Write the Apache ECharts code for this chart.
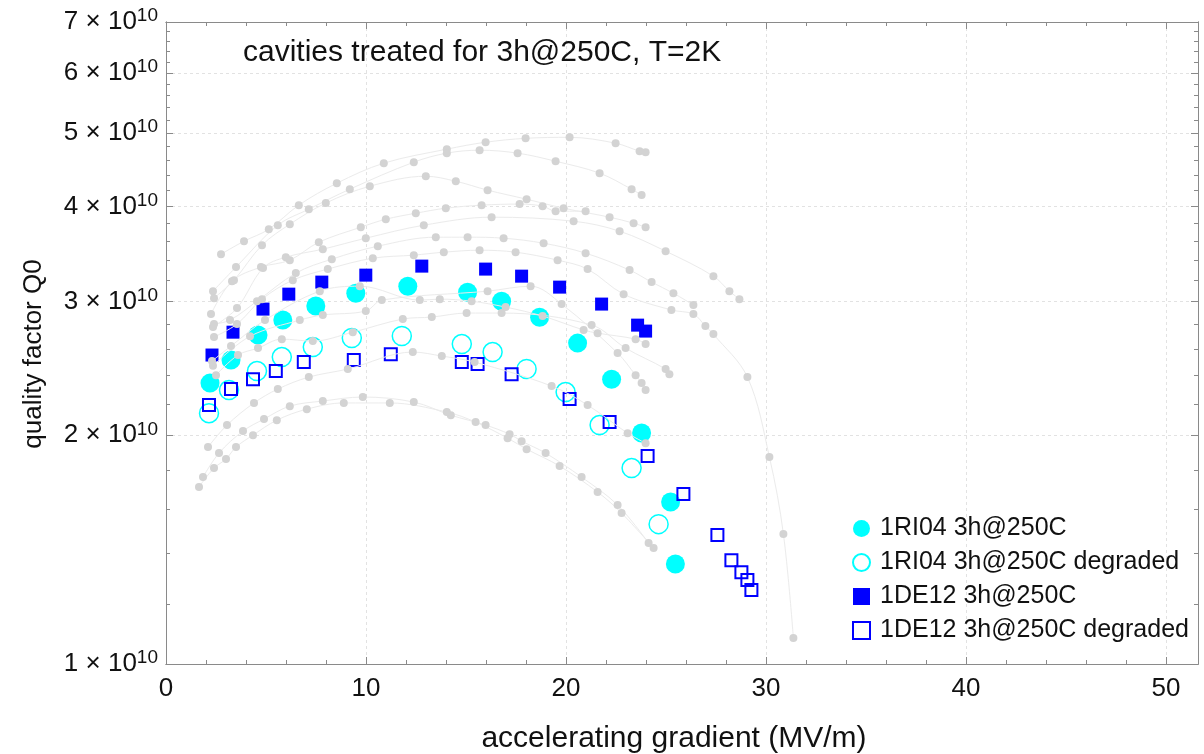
<!DOCTYPE html>
<html><head><meta charset="utf-8">
<script src="https://cdn.jsdelivr.net/npm/echarts@6/dist/echarts.min.js"></script>
<style>html,body{margin:0;padding:0;background:#fff}#c{width:1204px;height:754px}</style>
</head><body><div id="c"></div>
<script>
// ---- tick labels (y in units of 1e10) ----
const xMajor = [0, 10, 20, 30, 40, 50];
const xMinor = [2,4,6,8,12,14,16,18,22,24,26,28,32,34,36,38,42,44,46,48];
const yMajor = [1, 2, 3, 4, 5, 6, 7];
const yMinor = [1.2,1.4,1.6,1.8,2.2,2.4,2.6,2.8,3.2,3.4,3.6,3.8,4.2,4.4,4.6,4.8,5.2,5.4,5.6,5.8,6.2,6.4,6.6,6.8];

// ---- highlighted series: [gradient MV/m, Q0 / 1e10] ----
const ri04 = [[2.20,2.343],[3.25,2.512],[4.60,2.710],[5.84,2.836],[7.49,2.959],[9.49,3.077],[12.09,3.143],[15.08,3.086],[16.78,3.003],[18.68,2.861],[20.58,2.645],[22.28,2.371],[23.78,2.014],[25.23,1.634],[25.47,1.354]];
const ri04deg = [[2.15,2.139],[3.15,2.294],[4.55,2.430],[5.79,2.535],[7.34,2.613],[9.29,2.686],[11.79,2.702],[14.79,2.637],[16.33,2.574],[18.03,2.445],[19.98,2.280],[21.68,2.063],[23.28,1.811],[24.63,1.528]];
const de12 = [[2.30,2.551],[3.35,2.734],[4.85,2.932],[6.14,3.068],[7.79,3.182],[9.99,3.250],[12.79,3.340],[15.98,3.310],[17.78,3.240],[19.68,3.134],[21.78,2.977],[23.58,2.793],[23.98,2.743]];
const de12deg = [[2.15,2.192],[3.25,2.301],[4.35,2.371],[5.49,2.430],[6.89,2.497],[9.39,2.512],[11.24,2.558],[14.79,2.497],[15.58,2.482],[17.28,2.407],[20.18,2.232],[22.18,2.082],[24.08,1.878],[25.87,1.674],[27.57,1.478],[28.27,1.370],[28.77,1.321],[29.07,1.290],[29.27,1.251]];

// ---- background (other cavities) curves ----
const g01 = [[2.75,3.463],[3.90,3.602],[5.14,3.735],[6.64,4.018],[8.54,4.294],[10.89,4.563],[14.04,4.761],[15.98,4.862],[17.98,4.920],[20.18,4.935],[22.48,4.848],[23.68,4.732],[23.98,4.718]];
const g02 = [[2.35,3.096],[3.50,3.330],[5.59,3.781],[7.14,3.969],[9.19,4.217],[12.39,4.577],[14.04,4.704],[15.68,4.746],[17.58,4.704],[19.48,4.590],[21.68,4.427],[23.28,4.217],[23.78,4.142]];
const g03 = [[2.40,3.031],[3.40,3.201],[4.80,3.559],[6.19,3.792],[7.99,4.043],[10.19,4.255],[12.99,4.386],[14.49,4.320],[16.08,4.205],[18.03,4.091],[19.88,3.981],[22.18,3.874],[23.38,3.804],[23.98,3.758]];
const g04 = [[2.25,2.888],[3.30,3.191],[4.75,3.330],[6.19,3.401],[7.64,3.591],[9.74,3.758],[10.99,3.850],[12.49,3.921],[13.99,3.981],[15.78,4.018],[17.68,4.031],[18.83,4.006],[19.48,3.945],[20.98,3.945]];
const g05 = [[2.35,2.777],[3.55,2.941],[4.85,3.320],[5.99,3.432],[7.84,3.516],[9.99,3.635],[12.89,3.781],[16.28,3.874],[20.38,3.827],[22.68,3.713],[24.98,3.495],[27.37,3.240],[28.17,3.096],[28.67,3.022]];
const g06 = [[2.40,2.802],[3.20,2.836],[4.55,3.003],[6.49,3.270],[8.29,3.411],[10.59,3.548],[13.49,3.646],[15.08,3.646],[16.88,3.635],[18.88,3.580],[20.98,3.474],[23.18,3.300],[24.28,3.182],[25.37,3.077],[26.37,2.968]];
const g07 = [[2.40,2.694],[3.55,2.802],[4.80,3.022],[6.34,3.201],[8.09,3.310],[10.34,3.421],[12.39,3.453],[13.89,3.484],[15.68,3.505],[17.48,3.484],[19.58,3.401],[21.08,3.310],[22.88,3.068],[25.27,2.924],[26.37,2.888],[26.97,2.785],[27.37,2.718],[29.07,2.386],[30.17,1.873],[30.87,1.483],[31.37,1.082]];
const g08 = [[2.30,2.505],[3.25,2.621],[4.95,2.836],[7.69,3.096],[9.69,3.143],[12.69,3.013],[13.69,3.022],[15.28,3.003],[16.98,2.950],[18.83,2.871],[20.88,2.752],[21.58,2.726],[23.48,2.677],[23.98,2.637]];
const g09 = [[2.50,2.400],[3.60,2.551],[4.60,2.605],[5.79,2.677],[7.34,2.661],[9.34,2.734],[11.84,2.845],[13.29,2.862],[15.03,2.897],[16.78,2.897],[21.28,2.794],[22.98,2.605],[24.98,2.445],[25.17,2.407]];
const g10 = [[2.35,2.470],[4.20,2.700],[6.69,2.836],[7.84,2.880],[9.99,2.915],[10.79,3.013],[16.08,3.096],[18.23,3.143],[19.78,2.977],[22.58,2.566],[23.48,2.400],[23.78,2.343],[23.98,2.294]];
const g11 = [[2.10,1.930],[3.05,2.063],[4.40,2.206],[5.59,2.301],[7.14,2.386],[9.09,2.445],[12.34,2.574],[13.79,2.543],[15.43,2.497],[19.28,2.322],[21.08,2.192],[23.08,2.013],[23.98,1.953]];
const g12 = [[1.85,1.762],[2.65,1.895],[3.85,2.026],[4.90,2.101],[6.19,2.185],[7.84,2.219],[9.84,2.246],[12.39,2.212],[14.24,2.126],[15.98,2.063],[17.18,2.007],[17.78,1.965],[18.98,1.895],[20.78,1.762],[22.58,1.619],[24.13,1.443]];
const g13 = [[1.65,1.710],[2.40,1.811],[3.00,1.861],[3.50,1.930],[4.35,2.001],[5.54,2.094],[7.04,2.165],[8.89,2.206],[11.19,2.206],[14.04,2.146],[15.48,2.082],[17.08,1.983],[18.03,1.918],[19.68,1.822],[21.58,1.684],[22.78,1.580],[24.38,1.421]];
const grayCurves = [g01,g02,g03,g04,g05,g06,g07,g08,g09,g10,g11,g12,g13];

const names = ['1RI04 3h@250C','1RI04 3h@250C degraded','1DE12 3h@250C','1DE12 3h@250C degraded'];
const titleText = 'cavities treated for 3h@250C, T=2K';

const FONT = "'Liberation Sans', Arial, sans-serif";
const AX = '#8a8a8a';
const GRIDC = '#e2e2e2';
const CYAN = '#00ffff';
const BLUE = '#0000ff';

const chart = echarts.init(document.getElementById('c'));

function xAx(pos, major, extra) {
  return Object.assign({
    type: 'value', min: 0, max: 51.6, position: pos, gridIndex: 0,
    axisLine: { show: true, onZero: false, lineStyle: { color: AX, width: 1 } },
    axisTick: { show: true, inside: true, length: major ? 7 : 4, customValues: major ? xMajor : xMinor, lineStyle: { color: AX } },
    axisLabel: { show: false },
    splitLine: { show: false }
  }, extra || {});
}
function yAx(pos, major, extra) {
  return Object.assign({
    type: 'log', logBase: 10, min: 1, max: 7, position: pos, gridIndex: 0,
    axisLine: { show: true, onZero: false, lineStyle: { color: AX, width: 1 } },
    axisTick: { show: true, inside: true, length: major ? 7 : 4, customValues: major ? yMajor : yMinor, lineStyle: { color: AX } },
    axisLabel: { show: false },
    splitLine: { show: false }
  }, extra || {});
}

const series = [];
series.push({ name: names[0], type: 'scatter', data: ri04, symbol: 'circle', symbolSize: 19, itemStyle: { color: CYAN, opacity: 1 }, z: 2 });
series.push({ name: names[1], type: 'scatter', data: ri04deg, symbol: 'circle', symbolSize: 19, itemStyle: { color: 'rgba(255,255,255,0)', borderColor: CYAN, borderWidth: 1.5, opacity: 1 }, z: 2 });
series.push({ name: names[2], type: 'scatter', data: de12, symbol: 'rect', symbolSize: 13, itemStyle: { color: BLUE, opacity: 1 }, z: 2 });
series.push({ name: names[3], type: 'scatter', data: de12deg, symbol: 'rect', symbolSize: 12, itemStyle: { color: 'rgba(255,255,255,0)', borderColor: BLUE, borderWidth: 2, opacity: 1 }, z: 2 });
grayCurves.forEach((d, i) => {
  series.push({
    name: 'bg' + i, type: 'line', data: d, smooth: 0.35, symbol: 'circle', symbolSize: 8, showSymbol: true,
    itemStyle: { color: '#d3d3d3', opacity: 1 }, lineStyle: { color: '#ebebeb', width: 1 }, z: 3, silent: true
  });
});

chart.setOption({
  animation: false,
  backgroundColor: '#fff',
  textStyle: { fontFamily: FONT },
  title: { text: titleText, left: 238, top: 33, textStyle: { fontFamily: FONT, fontSize: 30, fontWeight: 'normal', color: '#111' } },
  grid: { left: 166, top: 22, right: 6, bottom: 90, containLabel: false, outerBoundsMode: 'none' },
  legend: {
    data: names, orient: 'vertical', left: 847, top: 511, itemWidth: 17, itemHeight: 17, itemGap: 9,
    textStyle: { fontFamily: FONT, fontSize: 25, color: '#111', lineHeight: 25, padding: [0, 0, 0, 5] }
  },
  xAxis: [
    xAx('bottom', true, {
      axisLabel: { show: true, customValues: xMajor, fontSize: 26, color: '#111', margin: 12, fontFamily: FONT },
      splitLine: { show: true, lineStyle: { color: GRIDC, type: [3, 3] } },
      name: 'accelerating gradient (MV/m)', nameLocation: 'middle', nameGap: 60,
      nameTextStyle: { fontSize: 30, color: '#111', fontFamily: FONT, padding: [0, 16, 0, 0] }
    }),
    xAx('bottom', false),
    xAx('top', true),
    xAx('top', false)
  ],
  yAxis: [
    yAx('left', true, {
      axisLabel: {
        show: true, customValues: yMajor, margin: 8,
        formatter: v => '{a|' + Math.round(v) + ' \u00d7 10}{s|10}',
        rich: { a: { fontSize: 26, color: '#111', fontFamily: FONT }, s: { fontSize: 19, color: '#111', fontFamily: FONT, padding: [0, 0, 12, 0] } }
      },
      splitLine: { show: true, lineStyle: { color: GRIDC, type: [3, 3] } },
      name: 'quality factor Q0', nameLocation: 'middle', nameGap: 119,
      nameTextStyle: { fontSize: 26, color: '#111', fontFamily: FONT, padding: [0, 22, 0, 0] }
    }),
    yAx('left', false),
    yAx('right', true),
    yAx('right', false)
  ],
  series: series
});
</script>
</body></html>
